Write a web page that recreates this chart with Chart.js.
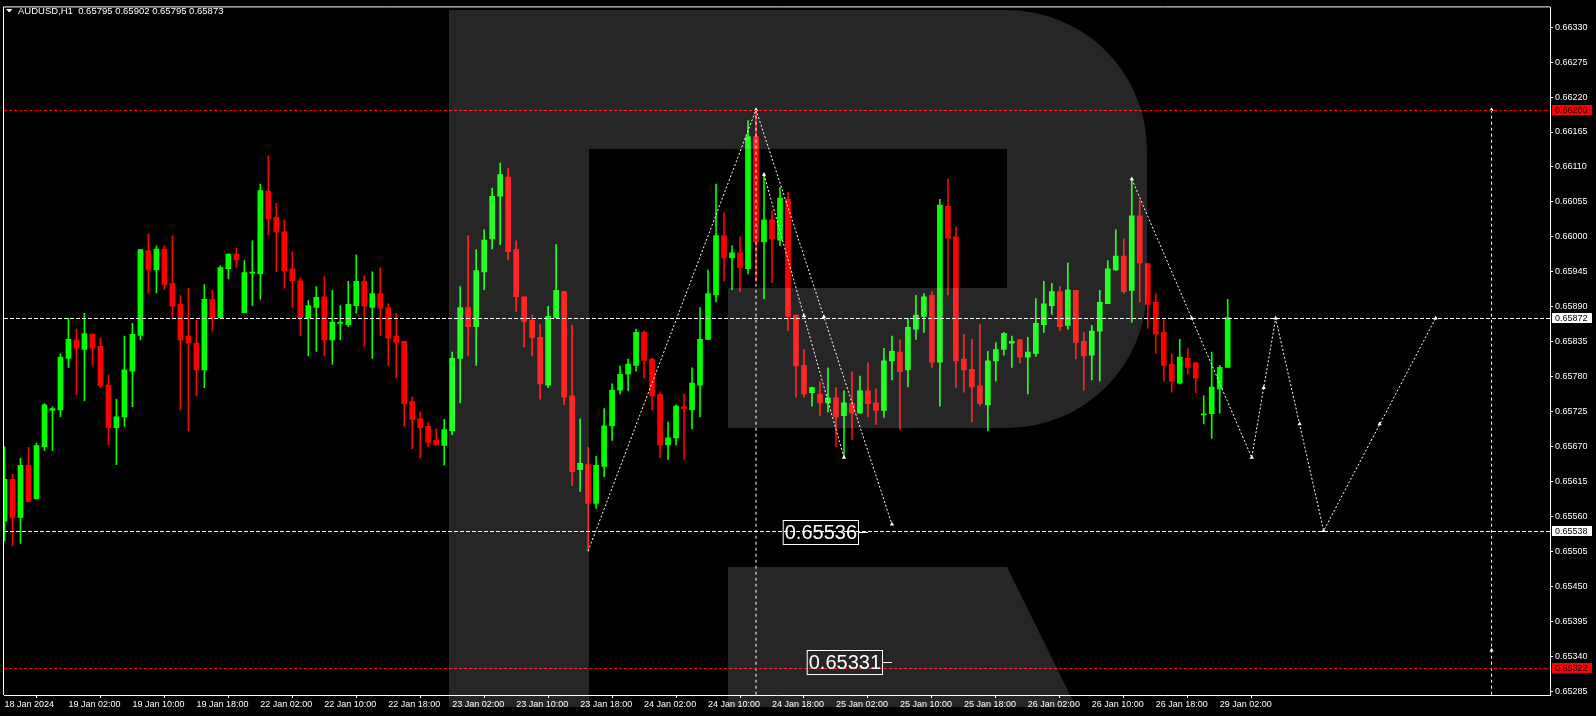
<!DOCTYPE html>
<html>
<head>
<meta charset="utf-8">
<title>AUDUSD H1</title>
<script src="https://cdn.jsdelivr.net/npm/chart.js@4.4.1/dist/chart.umd.min.js"></script>
<style>
  html, body { margin: 0; padding: 0; background: #000; }
  #wrap { width: 1596px; height: 716px; }
</style>
</head>
<body>
<div id="wrap"><canvas id="chart" width="1596" height="716"></canvas></div>
<script>
// header of the chart window
const symbolTitle = 'AUDUSD,H1';
const lastQuote = [0.65795, 0.65902, 0.65795, 0.65873];

// hourly candles, 18 Jan 18:00 .. 29 Jan 03:00
const opens = [
  0.65553, 0.65619, 0.65559, 0.65641, 0.65588, 0.65670, 0.65727, 0.65728, 0.65809, 0.65838,
  0.65823, 0.65847, 0.65828, 0.65767, 0.65700, 0.65717, 0.65789, 0.65845, 0.65978, 0.65948,
  0.65981, 0.65927, 0.65894, 0.65844, 0.65833, 0.65791, 0.65902, 0.65873, 0.65950, 0.65973,
  0.65881, 0.65943, 0.65942, 0.66072, 0.66031, 0.66008, 0.65950, 0.65931, 0.65873, 0.65889,
  0.65906, 0.65838, 0.65864, 0.65862, 0.65892, 0.65930, 0.65889, 0.65911, 0.65889, 0.65844,
  0.65836, 0.65741, 0.65714, 0.65702, 0.65680, 0.65672, 0.65695, 0.65809, 0.65889, 0.65859,
  0.65945, 0.65997, 0.66064, 0.66094, 0.65980, 0.65906, 0.65869, 0.65842, 0.65767, 0.65873,
  0.65914, 0.65750, 0.65634, 0.65642, 0.65581, 0.65639, 0.65703, 0.65759, 0.65784, 0.65798,
  0.65850, 0.65808, 0.65752, 0.65673, 0.65684, 0.65733, 0.65728, 0.65767, 0.65839, 0.65909,
  0.66002, 0.65967, 0.65975, 0.65950, 0.66158, 0.65992, 0.66027, 0.65995, 0.66059, 0.65877,
  0.65798, 0.65755, 0.65753, 0.65739, 0.65747, 0.65719, 0.65738, 0.65723, 0.65758, 0.65739,
  0.65727, 0.65805, 0.65819, 0.65791, 0.65855, 0.65875, 0.65908, 0.65803, 0.66048, 0.66000,
  0.65808, 0.65792, 0.65766, 0.65736, 0.65805, 0.65823, 0.65833, 0.65838, 0.65811, 0.65817,
  0.65862, 0.65892, 0.65914, 0.65861, 0.65916, 0.65836, 0.65814, 0.65852, 0.65895, 0.65948,
  0.65970, 0.65916, 0.66033, 0.65958, 0.65897, 0.65850, 0.65800, 0.65770, 0.65809, 0.65802,
  0.65720, 0.65722, 0.65761, 0.65795
];
const highs = [
  0.65670, 0.65627, 0.65652, 0.65669, 0.65676, 0.65738, 0.65733, 0.65816, 0.65872, 0.65855,
  0.65880, 0.65848, 0.65841, 0.65783, 0.65745, 0.65844, 0.65864, 0.65980, 0.66005, 0.65986,
  0.65986, 0.66002, 0.65908, 0.65919, 0.65869, 0.65925, 0.65916, 0.65955, 0.65973, 0.65983,
  0.65963, 0.65994, 0.66083, 0.66128, 0.66053, 0.66027, 0.65977, 0.65936, 0.65900, 0.65922,
  0.65938, 0.65916, 0.65892, 0.65930, 0.65972, 0.65939, 0.65945, 0.65952, 0.65895, 0.65880,
  0.65836, 0.65748, 0.65725, 0.65708, 0.65698, 0.65713, 0.65819, 0.65922, 0.66002, 0.65980,
  0.66011, 0.66077, 0.66116, 0.66108, 0.65994, 0.65906, 0.65877, 0.65862, 0.65891, 0.65988,
  0.65914, 0.65861, 0.65714, 0.65669, 0.65655, 0.65730, 0.65769, 0.65797, 0.65808, 0.65855,
  0.65852, 0.65809, 0.65755, 0.65709, 0.65736, 0.65753, 0.65794, 0.65889, 0.65948, 0.66083,
  0.66038, 0.65986, 0.66000, 0.66183, 0.66200, 0.66098, 0.66041, 0.66078, 0.66070, 0.65877,
  0.65823, 0.65764, 0.65772, 0.65794, 0.65763, 0.65758, 0.65788, 0.65781, 0.65802, 0.65761,
  0.65825, 0.65844, 0.65838, 0.65872, 0.65908, 0.65911, 0.65914, 0.66059, 0.66091, 0.66016,
  0.65847, 0.65839, 0.65862, 0.65820, 0.65834, 0.65850, 0.65844, 0.65839, 0.65842, 0.65903,
  0.65930, 0.65927, 0.65922, 0.65959, 0.65916, 0.65850, 0.65861, 0.65916, 0.65963, 0.66011,
  0.65997, 0.66091, 0.66058, 0.65958, 0.65911, 0.65870, 0.65816, 0.65839, 0.65825, 0.65803,
  0.65750, 0.65819, 0.65798, 0.65902
];
const lows = [
  0.65522, 0.65514, 0.65518, 0.65584, 0.65588, 0.65664, 0.65664, 0.65717, 0.65795, 0.65752,
  0.65742, 0.65798, 0.65763, 0.65673, 0.65642, 0.65702, 0.65733, 0.65838, 0.65911, 0.65912,
  0.65917, 0.65872, 0.65728, 0.65695, 0.65750, 0.65763, 0.65852, 0.65873, 0.65934, 0.65953,
  0.65881, 0.65892, 0.65902, 0.66003, 0.65945, 0.65919, 0.65889, 0.65845, 0.65813, 0.65820,
  0.65813, 0.65800, 0.65838, 0.65859, 0.65880, 0.65828, 0.65809, 0.65845, 0.65798, 0.65778,
  0.65702, 0.65667, 0.65652, 0.65670, 0.65673, 0.65641, 0.65689, 0.65739, 0.65813, 0.65798,
  0.65917, 0.65981, 0.65988, 0.65964, 0.65883, 0.65827, 0.65813, 0.65745, 0.65763, 0.65873,
  0.65736, 0.65609, 0.65600, 0.65506, 0.65573, 0.65623, 0.65680, 0.65753, 0.65758, 0.65789,
  0.65778, 0.65727, 0.65653, 0.65650, 0.65673, 0.65650, 0.65698, 0.65717, 0.65839, 0.65898,
  0.65931, 0.65917, 0.65914, 0.65942, 0.65930, 0.65903, 0.65928, 0.65986, 0.65853, 0.65748,
  0.65748, 0.65734, 0.65719, 0.65725, 0.65670, 0.65655, 0.65681, 0.65723, 0.65717, 0.65705,
  0.65716, 0.65775, 0.65697, 0.65764, 0.65839, 0.65850, 0.65795, 0.65734, 0.65909, 0.65763,
  0.65756, 0.65709, 0.65734, 0.65695, 0.65773, 0.65814, 0.65795, 0.65802, 0.65753, 0.65812,
  0.65850, 0.65878, 0.65853, 0.65855, 0.65808, 0.65759, 0.65775, 0.65773, 0.65895, 0.65947,
  0.65911, 0.65866, 0.65898, 0.65856, 0.65817, 0.65773, 0.65756, 0.65769, 0.65784, 0.65755,
  0.65706, 0.65683, 0.65723, 0.65795
];
const closes = [
  0.65619, 0.65558, 0.65641, 0.65584, 0.65672, 0.65736, 0.65730, 0.65811, 0.65839, 0.65825,
  0.65848, 0.65825, 0.65766, 0.65700, 0.65717, 0.65791, 0.65847, 0.65980, 0.65948, 0.65981,
  0.65925, 0.65891, 0.65838, 0.65833, 0.65791, 0.65902, 0.65873, 0.65952, 0.65973, 0.65964,
  0.65944, 0.65944, 0.66073, 0.66028, 0.66008, 0.65947, 0.65931, 0.65873, 0.65892, 0.65905,
  0.65838, 0.65866, 0.65866, 0.65894, 0.65930, 0.65891, 0.65911, 0.65888, 0.65841, 0.65834,
  0.65738, 0.65713, 0.65700, 0.65677, 0.65673, 0.65697, 0.65809, 0.65889, 0.65859, 0.65947,
  0.65995, 0.66064, 0.66098, 0.65977, 0.65906, 0.65867, 0.65842, 0.65769, 0.65875, 0.65916,
  0.65748, 0.65631, 0.65644, 0.65581, 0.65641, 0.65703, 0.65759, 0.65784, 0.65800, 0.65850,
  0.65806, 0.65750, 0.65673, 0.65684, 0.65734, 0.65730, 0.65770, 0.65839, 0.65911, 0.66002,
  0.65967, 0.65975, 0.65952, 0.66158, 0.65992, 0.66027, 0.65997, 0.66061, 0.65875, 0.65797,
  0.65753, 0.65763, 0.65739, 0.65747, 0.65717, 0.65739, 0.65723, 0.65758, 0.65738, 0.65727,
  0.65805, 0.65820, 0.65788, 0.65858, 0.65877, 0.65906, 0.65803, 0.66050, 0.65998, 0.65805,
  0.65791, 0.65764, 0.65738, 0.65805, 0.65823, 0.65848, 0.65836, 0.65811, 0.65819, 0.65864,
  0.65895, 0.65914, 0.65859, 0.65917, 0.65834, 0.65813, 0.65852, 0.65897, 0.65950, 0.65970,
  0.65914, 0.66033, 0.65959, 0.65894, 0.65847, 0.65798, 0.65773, 0.65811, 0.65795, 0.65778,
  0.65722, 0.65764, 0.65795, 0.65873
];

// time axis: one label every 8 bars
const tickIdx = [0, 8, 16, 24, 32, 40, 48, 56, 64, 72, 80, 88, 96, 104, 112, 120, 128, 136, 144, 152];
const tickLabels = [
  '18 Jan 2024', '19 Jan 02:00', '19 Jan 10:00', '19 Jan 18:00', '22 Jan 02:00',
  '22 Jan 10:00', '22 Jan 18:00', '23 Jan 02:00', '23 Jan 10:00', '23 Jan 18:00',
  '24 Jan 02:00', '24 Jan 10:00', '24 Jan 18:00', '25 Jan 02:00', '25 Jan 10:00',
  '25 Jan 18:00', '26 Jan 02:00', '26 Jan 10:00', '26 Jan 18:00', '29 Jan 02:00'
];
const priceTicks = [
  0.66330, 0.66275, 0.66220, 0.66165, 0.66110, 0.66055, 0.66000, 0.65945, 0.65890, 0.65835,
  0.65780, 0.65725, 0.65670, 0.65615, 0.65560, 0.65505, 0.65450, 0.65395, 0.65340, 0.65285
];

// horizontal levels
const redLevels = [0.66200, 0.65322];
const whiteLevels = [0.65872, 0.65538];

// analyst's wave paths (bar index / price)
const waveAIdx = [73, 94, 111];
const waveAPrice = [0.65506, 0.66200, 0.65548];
const waveBIdx = [95, 105];
const waveBPrice = [0.66098, 0.65653];
const forecastIdx = [141, 156, 159, 165, 179];
const forecastPrice = [0.66091, 0.65653, 0.65872, 0.65538, 0.65872];
const markerIdx = [94, 95, 100, 102.5, 105, 111, 141, 148.5, 156, 157.5, 159, 162, 165, 172, 179, 186, 186];
const markerPrice = [0.66200, 0.66098, 0.65876, 0.65874, 0.65653, 0.65548, 0.66091, 0.65872,
  0.65653, 0.65763, 0.65872, 0.65706, 0.65538, 0.65706, 0.65872, 0.66200, 0.65350];
const vLineIdx = [94, 186];
const vLineTop = 0.66200;

// price notes drawn on the chart
const noteIdx = [108, 111];
const noteValues = [0.65536, 0.65331];

const GREEN = '#00ff00';
const RED = '#ff0000';
const FONT = '"Liberation Sans", Arial, sans-serif';

// axis window: 8 px per bar, 64000 px per 1.0 of price
const xMin = -0.0625, xMax = 193.3125;
const yMin = 0.6527969, yMax = 0.6636094;

const candleColors = opens.map((o, i) => closes[i] >= o ? GREEN : RED);
const bodyData = opens.map((o, i) => ({ x: i, y: [o, closes[i]] }));
const wickData = opens.map((o, i) => ({ x: i, y: [lows[i], highs[i]] }));

function pts(xs, ys) {
  return xs.map((x, i) => ({ x: x, y: ys[i] }));
}

const datasets = [
  { type: 'bar', data: wickData, backgroundColor: candleColors, barThickness: 1, grouped: false, order: 11 },
  { type: 'bar', data: bodyData, backgroundColor: candleColors, barThickness: 5, grouped: false, minBarLength: 1, order: 10 }
];
vLineIdx.forEach(ix => datasets.push({
  type: 'line', data: [{ x: ix, y: vLineTop }, { x: ix, y: yMin }],
  borderColor: '#ffffff', borderWidth: 1, borderDash: [3, 3], pointRadius: 0, order: 2
}));
[[waveAIdx, waveAPrice], [waveBIdx, waveBPrice], [forecastIdx, forecastPrice]].forEach(w => datasets.push({
  type: 'line', data: pts(w[0], w[1]),
  borderColor: '#ffffff', borderWidth: 1, borderDash: [2, 2], pointRadius: 0, tension: 0, order: 1
}));
datasets.push({
  type: 'scatter', data: pts(markerIdx, markerPrice),
  backgroundColor: '#ffffff', borderColor: '#ffffff', pointStyle: 'triangle', pointRadius: 2.5, borderWidth: 0, order: 0
});

const mtPlugin = {
  id: 'mtLook',
  beforeDraw(chart) {
    const ctx = chart.ctx;
    ctx.save();
    ctx.fillStyle = '#000';
    ctx.fillRect(0, 0, chart.width, chart.height);
    ctx.restore();
  },
  afterDatasetsDraw(chart) {
    const ctx = chart.ctx, xs = chart.scales.x, ys = chart.scales.y, area = chart.chartArea;
    ctx.save();
    // horizontal levels, snapped to whole pixels so the dashes stay crisp
    ctx.lineWidth = 1;
    const levels = redLevels.map(p => [p, RED, [3, 2]]).concat(whiteLevels.map(p => [p, '#ffffff', [4, 2]]));
    levels.forEach(l => {
      const py = Math.round(ys.getPixelForValue(l[0])) + 0.5;
      ctx.strokeStyle = l[1];
      ctx.setLineDash(l[2]);
      ctx.beginPath();
      ctx.moveTo(area.left, py);
      ctx.lineTo(area.right, py);
      ctx.stroke();
    });
    ctx.setLineDash([]);

    // boxed price notes
    ctx.font = '20px ' + FONT;
    ctx.strokeStyle = '#ffffff';
    ctx.fillStyle = '#ffffff';
    noteValues.forEach((v, k) => {
      const ax = Math.round(xs.getPixelForValue(noteIdx[k]));
      const py = Math.round(ys.getPixelForValue(v));
      const txt = v.toFixed(5);
      const w = ctx.measureText(txt).width;
      const right = ax - 10;
      const left = right - w - 3;
      ctx.strokeRect(left + 0.5, py - 12 + 0.5, right - left, 24);
      ctx.beginPath();
      ctx.moveTo(right, py + 0.5);
      ctx.lineTo(ax, py + 0.5);
      ctx.stroke();
      ctx.textBaseline = 'middle';
      ctx.textAlign = 'left';
      ctx.fillText(txt, left + 2, py + 1);
    });
    ctx.restore();
  },
  afterDraw(chart) {
    const ctx = chart.ctx, area = chart.chartArea, ys = chart.scales.y;
    ctx.save();
    // frame on top and left
    ctx.strokeStyle = '#ffffff';
    ctx.lineWidth = 1;
    ctx.beginPath();
    ctx.moveTo(area.left - 0.5, area.bottom);
    ctx.lineTo(area.left - 0.5, area.top - 0.5);
    ctx.lineTo(area.right, area.top - 0.5);
    ctx.stroke();

    // price tags on the right scale
    ctx.font = '9px ' + FONT;
    ctx.textBaseline = 'middle';
    ctx.textAlign = 'left';
    const tags = redLevels.map(p => [p, RED]).concat(whiteLevels.map(p => [p, '#ffffff']));
    tags.forEach(t => {
      const py = Math.round(ys.getPixelForValue(t[0]));
      ctx.fillStyle = t[1];
      ctx.fillRect(area.right + 2, py - 5, 40, 10);
      ctx.fillStyle = '#000';
      ctx.fillText(t[0].toFixed(5), area.right + 5, py + 0.5);
    });

    // window header
    ctx.fillStyle = '#ffffff';
    ctx.beginPath();
    ctx.moveTo(6, 9);
    ctx.lineTo(12.5, 9);
    ctx.lineTo(9.25, 12.5);
    ctx.closePath();
    ctx.fill();
    ctx.font = '9.5px ' + FONT;
    ctx.fillText(symbolTitle + '  ' + lastQuote.map(v => v.toFixed(5)).join(' '), 18, 11);

    // broker watermark, light veil over everything
    ctx.fillStyle = 'rgba(255,255,255,0.149)';
    ctx.beginPath();
    ctx.rect(449, 10, 140, 697);
    ctx.rect(589, 10, 418, 139);
    ctx.moveTo(1007, 10);
    ctx.arc(1007, 150, 140, -Math.PI / 2, 0);
    ctx.lineTo(1147, 288);
    ctx.arc(1007, 288, 140, 0, Math.PI / 2);
    ctx.lineTo(1007, 10);
    ctx.closePath();
    ctx.rect(728, 288, 279, 140);
    ctx.moveTo(728, 567);
    ctx.lineTo(1007, 567);
    ctx.lineTo(1076, 707);
    ctx.lineTo(728, 707);
    ctx.closePath();
    ctx.fill();
    ctx.restore();
  }
};

new Chart(document.getElementById('chart'), {
  type: 'bar',
  data: { datasets: datasets },
  options: {
    responsive: false,
    animation: false,
    devicePixelRatio: 1,
    layout: { padding: { left: 3, top: 3, right: 0, bottom: 0 } },
    plugins: { legend: { display: false }, tooltip: { enabled: false } },
    scales: {
      x: {
        type: 'linear', min: xMin, max: xMax, offset: false,
        afterFit: s => { s.height = 21; },
        afterBuildTicks: s => { s.ticks = tickIdx.map(v => ({ value: v })); },
        grid: { display: true, drawOnChartArea: false, drawTicks: true, tickLength: 3, color: '#ffffff' },
        border: { display: true, color: '#ffffff', width: 1 },
        ticks: {
          autoSkip: false, maxRotation: 0, align: 'start', padding: 1,
          color: '#ffffff', font: { family: FONT, size: 9 },
          callback: (v) => tickLabels[tickIdx.indexOf(v)]
        }
      },
      y: {
        type: 'linear', position: 'right', min: yMin, max: yMax,
        afterFit: s => { s.width = 46; },
        afterBuildTicks: s => { s.ticks = priceTicks.map(v => ({ value: v })); },
        grid: { display: true, drawOnChartArea: false, drawTicks: true, tickLength: 3, color: '#ffffff' },
        border: { display: true, color: '#ffffff', width: 1 },
        ticks: {
          autoSkip: false, padding: 2,
          color: '#ffffff', font: { family: FONT, size: 9 },
          callback: (v) => Number(v).toFixed(5)
        }
      }
    }
  },
  plugins: [mtPlugin]
});
</script>
</body>
</html>
